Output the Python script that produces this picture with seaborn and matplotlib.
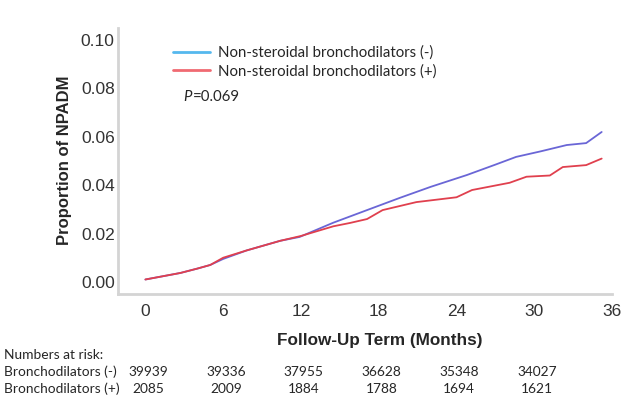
import matplotlib
matplotlib.use("Agg")
import matplotlib.pyplot as plt
import matplotlib.transforms as mtransforms
from matplotlib.lines import Line2D
import seaborn as sns
import pandas as pd

sns.set_theme(style="white")
plt.rcParams['font.family'] = ['Liberation Sans', 'DejaVu Sans']

# data
months_neg = [0, 1, 2.7, 4, 5, 6, 7.8, 10.4, 11.9, 14.5, 17, 19.6, 22, 24.8, 27, 28.6, 30.5, 32.5, 34, 35.2]
prop_neg   = [0.001, 0.002, 0.0037, 0.0055, 0.007, 0.0095, 0.013, 0.017, 0.0186, 0.0245, 0.0295, 0.0347, 0.0393, 0.0442, 0.0485, 0.0517, 0.054, 0.0566, 0.0574, 0.062]

months_pos = [0, 1, 2.7, 4, 5, 6, 7.8, 10.4, 12, 14.5, 15.8, 17.1, 18.3, 20.9, 24, 25.2, 28.1, 29.4, 31.2, 32.2, 34, 35.2]
prop_pos   = [0.001, 0.002, 0.0037, 0.0055, 0.007, 0.010, 0.013, 0.017, 0.019, 0.023, 0.0244, 0.026, 0.0297, 0.033, 0.035, 0.038, 0.041, 0.0435, 0.044, 0.0475, 0.0483, 0.051]

group_labels = ["Non-steroidal bronchodilators (-)", "Non-steroidal bronchodilators (+)"]
risk_times = [0, 6, 12, 18, 24, 30]
risk_neg = [39939, 39336, 37955, 36628, 35348, 34027]
risk_pos = [2085, 2009, 1884, 1788, 1694, 1621]
row_labels = ["Numbers at risk:", "Bronchodilators (-)", "Bronchodilators (+)"]
x_ticks = [0, 6, 12, 18, 24, 30, 36]
y_ticks = [0.00, 0.02, 0.04, 0.06, 0.08, 0.10]

df = pd.concat([
    pd.DataFrame({"month": months_neg, "prop": prop_neg, "group": group_labels[0]}),
    pd.DataFrame({"month": months_pos, "prop": prop_pos, "group": group_labels[1]}),
])

fig = plt.figure(figsize=(6.22, 4.0), dpi=100)
ax = fig.add_axes([0.19, 0.265, 0.794, 0.665])

line_colors = ["#6a66d6", "#e0404e"]
sns.lineplot(data=df, x="month", y="prop", hue="group", palette=line_colors,
             linewidth=1.3, ax=ax, legend=False)

ax.set_xlim(-2.1, 36)
ax.set_ylim(-0.005, 0.105)
ax.set_xticks(x_ticks)
ax.set_yticks(y_ticks)
ax.set_xticklabels([str(t) for t in x_ticks], fontsize=12.5, color="#333333")
ax.set_yticklabels([f"{t:.2f}" for t in y_ticks], fontsize=12.5, color="#333333")
ax.tick_params(axis="y", length=0, pad=2.5)
ax.tick_params(axis="x", length=0, pad=7)
for s in ["top", "right"]:
    ax.spines[s].set_visible(False)
for s in ["left", "bottom"]:
    ax.spines[s].set_color("#d4d4d4")
    ax.spines[s].set_linewidth(2)
ax.set_xlabel("")
ax.set_ylabel("")
fig.text(65 / 622, 1 - 160 / 400, "Proportion of NPADM", fontsize=12, fontweight="bold",
         rotation=90, ha="center", va="center")

# legend
handles = [Line2D([0], [0], color="#55b8ee", lw=2), Line2D([0], [0], color="#f06a72", lw=2)]
ax.legend(handles, group_labels, loc="upper left", bbox_to_anchor=(0.083, 0.985),
          frameon=False, handlelength=2.5, handletextpad=0.55,
          labelspacing=0.3, prop={"family": ["Lato", "DejaVu Sans"], "size": 10.8})
ax.text(0.132, 0.74, "P", transform=ax.transAxes, fontsize=10.8, style="italic",
        family=["Lato", "DejaVu Sans"], ha="left", va="center")
ax.text(0.151, 0.74, "=0.069", transform=ax.transAxes, fontsize=10.8,
        family=["Lato", "DejaVu Sans"], ha="left", va="center")

# x label
fig.text(380 / 622, 1 - 340 / 400, "Follow-Up Term (Months)", fontsize=12.3,
         fontweight="bold", ha="center", va="center")

# risk table
tbl_font = ["Lato", "DejaVu Sans"]
ys = [355, 372, 389]
for lab, y in zip(row_labels, ys):
    fig.text(4 / 622, 1 - y / 400, lab, fontsize=9.9, family=tbl_font, ha="left", va="center")
trans = mtransforms.blended_transform_factory(ax.transData, fig.transFigure)
for t, n1, n2 in zip(risk_times, risk_neg, risk_pos):
    ax.text(t + 0.2, 1 - ys[1] / 400, str(n1), transform=trans, fontsize=9.9,
            family=tbl_font, ha="center", va="center", clip_on=False)
    ax.text(t + 0.2, 1 - ys[2] / 400, str(n2), transform=trans, fontsize=9.9,
            family=tbl_font, ha="center", va="center", clip_on=False)

fig.savefig("out.png", dpi=100)
